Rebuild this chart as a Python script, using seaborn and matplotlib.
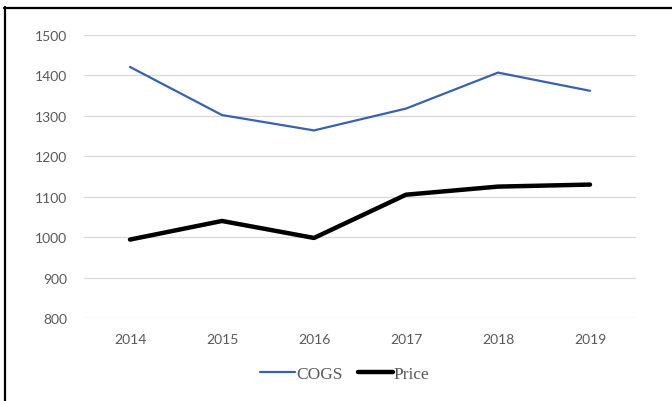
import matplotlib
matplotlib.use("Agg")
import matplotlib.pyplot as plt
from matplotlib.lines import Line2D
import seaborn as sns
import pandas as pd

years = [2014, 2015, 2016, 2017, 2018, 2019]
cogs = [1421, 1302, 1264, 1318, 1407, 1362]
price = [994, 1040, 998, 1105, 1125, 1130]
y_ticks = [800, 900, 1000, 1100, 1200, 1300, 1400, 1500]

df = pd.DataFrame({
    "Year": years * 2,
    "Value": cogs + price,
    "Series": ["COGS"] * len(years) + ["Price"] * len(years),
})

sns.set_theme(style="white")
plt.rcParams["font.family"] = ["Lato", "DejaVu Sans"]

fig = plt.figure(figsize=(6.72, 4.02), dpi=100)
ax = fig.add_axes([84 / 672, 1 - 319 / 402, 552 / 672, 283 / 402])

palette = {"COGS": "#3A62AC", "Price": "#000000"}
sns.lineplot(data=df, x="Year", y="Value", hue="Series", palette=palette,
             size="Series", sizes={"COGS": 1.6, "Price": 3.2},
             ax=ax, legend=False)

ax.set_xlim(2013.5, 2019.5)
ax.set_ylim(800, 1500)
ax.set_yticks(y_ticks)
ax.set_xticks(years)
ax.set_xticklabels([str(y) for y in years])
ax.set_xlabel("")
ax.set_ylabel("")
ax.grid(axis="y", color="#d9d9d9", linewidth=0.9)
ax.grid(axis="x", visible=False)
ax.set_axisbelow(True)
for s in ax.spines.values():
    s.set_visible(False)
ax.tick_params(axis="both", length=0, labelsize=10, labelcolor="#595959")
ax.tick_params(axis="x", pad=11)
ax.tick_params(axis="y", pad=12)

handles = [
    Line2D([], [], color=palette["COGS"], linewidth=1.6),
    Line2D([], [], color=palette["Price"], linewidth=3.2),
]
fig.legend(handles, ["COGS", "Price"], loc="center",
           bbox_to_anchor=(345 / 672, 1 - 375 / 402), ncol=2, frameon=False,
           prop={"family": "Liberation Serif", "size": 12.5},
           labelcolor="#595959", handlelength=2.0, handletextpad=0.05,
           columnspacing=0.9)

# frame lines along the top and left edges
fig.add_artist(Line2D([5 / 672, 5 / 672], [0, 1 - 8 / 402],
                      color="black", linewidth=1.6, transform=fig.transFigure))
fig.add_artist(Line2D([4 / 672, 1], [1 - 8.5 / 402, 1 - 8.5 / 402],
                      color="black", linewidth=1.6, transform=fig.transFigure))

fig.savefig("out.png", dpi=100)
